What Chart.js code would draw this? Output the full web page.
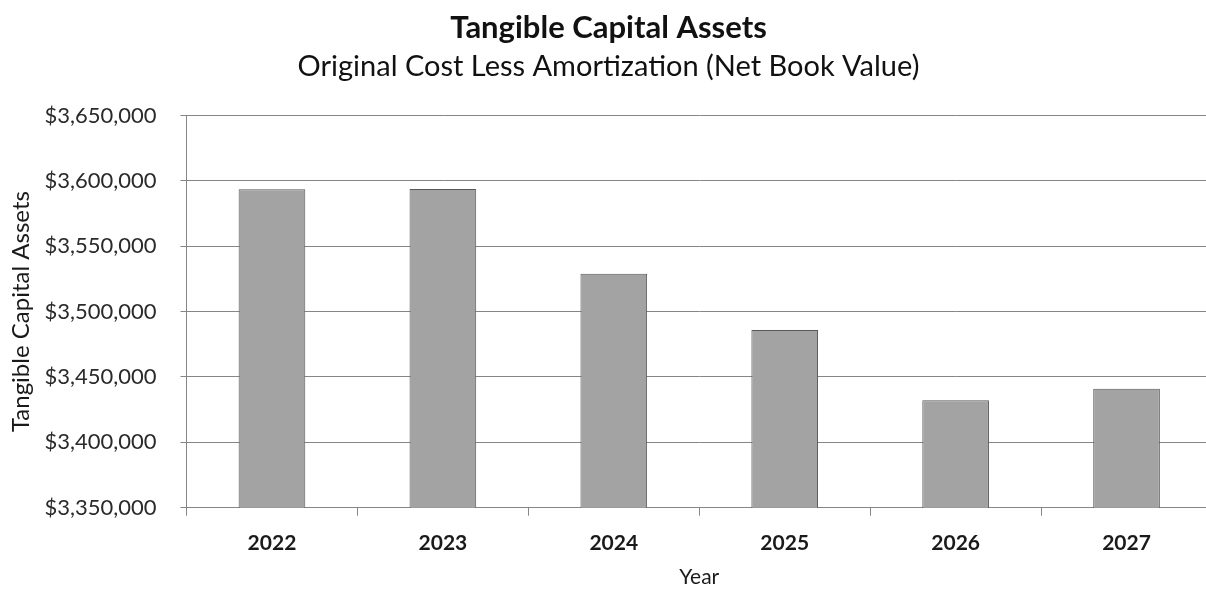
<!DOCTYPE html>
<html>
<head>
<meta charset="utf-8">
<title>Tangible Capital Assets</title>
<script src="https://cdn.jsdelivr.net/npm/chart.js@4.4.1/dist/chart.umd.min.js"></script>
<style>
  html, body { margin: 0; padding: 0; background: #ffffff; overflow: hidden; }
  #wrap { width: 1220px; height: 593px; }
</style>
</head>
<body>
<div id="wrap"><canvas id="chart" width="1220" height="593"></canvas></div>
<script>
// Net book value of tangible capital assets by year
const years = ['2022', '2023', '2024', '2025', '2026', '2027'];
const netBookValue = [3593600, 3593800, 3528900, 3486000, 3432200, 3441000];

// Value axis range and tick spacing
const axisMin = 3350000;
const axisMax = 3650000;
const axisStep = 50000;

const chartTitle = 'Tangible Capital Assets';
const chartSubtitle = 'Original Cost Less Amortization (Net Book Value)';
const yAxisTitle = 'Tangible Capital Assets';
const xAxisTitle = 'Year';

const FONT = 'Lato, "Open Sans", sans-serif';
const TEXT = '#1a1a1a';
const GRID = '#868686';

function money(v) {
  return '$' + Math.round(v).toLocaleString('en-US');
}

function draw() {
  new Chart(document.getElementById('chart'), {
    type: 'bar',
    data: {
      labels: years,
      datasets: [{
        data: netBookValue,
        backgroundColor: '#a3a3a3',
        borderColor: '#585858',
        borderWidth: 1,
        borderSkipped: 'bottom',
        barPercentage: 0.39,
        categoryPercentage: 1.0
      }]
    },
    options: {
      responsive: false,
      animation: false,
      layout: { padding: { left: 5, right: 8, top: 0, bottom: 0 } },
      plugins: {
        legend: { display: false },
        tooltip: { enabled: false },
        title: {
          display: true,
          text: chartTitle,
          color: '#111111',
          font: { family: FONT, size: 31, weight: 'bold' },
          padding: { top: 9, bottom: 0 }
        },
        subtitle: {
          display: true,
          text: chartSubtitle,
          color: '#111111',
          font: { family: FONT, size: 29, weight: 'normal' },
          padding: { top: 3, bottom: 31.5 }
        }
      },
      scales: {
        x: {
          grid: {
            display: true,
            drawOnChartArea: false,
            drawTicks: true,
            tickLength: 8,
            color: GRID,
            offset: true
          },
          border: { display: true, color: GRID, width: 1 },
          ticks: {
            color: TEXT,
            font: { family: FONT, size: 21, weight: 'bold' },
            padding: 15,
            maxRotation: 0
          },
          title: {
            display: true,
            text: xAxisTitle,
            color: TEXT,
            font: { family: FONT, size: 21, weight: 'normal' },
            padding: { top: 0, bottom: 3 }
          },
          afterFit: (scale) => { scale.height = 85.3; }
        },
        y: {
          min: axisMin,
          max: axisMax,
          grid: {
            color: GRID,
            lineWidth: 1,
            drawTicks: true,
            tickLength: 6
          },
          border: { display: true, color: GRID, width: 1 },
          ticks: {
            stepSize: axisStep,
            color: '#2a2a2a',
            font: { family: FONT, size: 22, weight: 'normal' },
            padding: 24,
            callback: (v) => money(v)
          },
          title: {
            display: true,
            text: yAxisTitle,
            color: TEXT,
            font: { family: FONT, size: 24, weight: 'normal' },
            padding: { top: 2, bottom: 0 }
          },
          afterFit: (scale) => { scale.width = 181.5; }
        }
      }
    }
  });
}

if (document.fonts && document.fonts.load) {
  Promise.all([
    document.fonts.load('bold 31px Lato'),
    document.fonts.load('22px Lato')
  ]).then(draw, draw);
} else {
  draw();
}
</script>
</body>
</html>
